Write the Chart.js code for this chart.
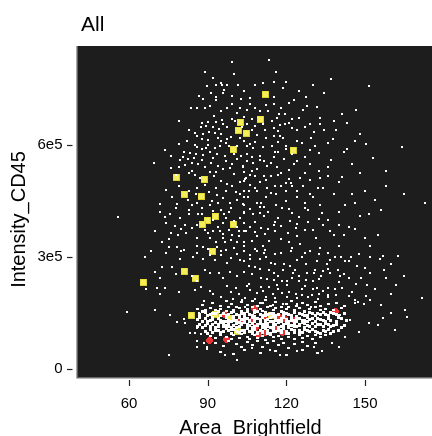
<!DOCTYPE html>
<html><head><meta charset="utf-8">
<script src="https://cdn.jsdelivr.net/npm/chart.js@4.4.1/dist/chart.umd.min.js"></script>
<style>html,body{margin:0;padding:0;background:#fff;}canvas{display:block;}</style>
</head><body>
<canvas id="c" width="432" height="436"></canvas>
<script>
const chartTitle = 'All';
const xAxisTitle = 'Area_Brightfield';
const yAxisTitle = 'Intensity_CD45';
const xTicks = [60, 90, 120, 150];
const xTickLabels = ['60', '90', '120', '150'];
const yTicks = [0, 3e5, 6e5];
const yTickLabels = ['0', '3e5', '6e5'];
const xRange = [40.17, 175.55];
const yRange = [-21400, 865200];

// scattered cells (area, intensity)
const cellsSparse = [
[113.5,828e3],[137.1,777e3],[151.6,758e3],[111.2,767e3],[115.4,768e3],[118.8,753e3],[134.5,740e3],[127.6,729e3],[115.4,729e3],[106.2,710e3],[115.4,710e3],[112.3,707e3],[105.1,694e3],[126.4,694e3],[131.8,702e3],[146.7,694e3],[117.2,683e3],[119.6,683e3],[141.3,683e3],[107,671e3],[114.6,664e3],[116.4,672e3],[122.2,670e3],[124.9,672e3],[132.9,673e3],[138.3,664e3],[117.7,653e3],[119.6,656e3],[129.1,656e3],[122.2,645e3],[115.4,645e3],[134.5,640e3],[139,640e3],[130.6,635e3],[112.2,618e3],[115.4,624e3],[117.7,624e3],[118.8,618e3],[129.5,618e3],[137.9,616e3],[150.5,602e3],[164.2,594e3],[106.2,602e3],[107.4,592e3],[105.1,597e3],[114.6,597e3],[119.9,597e3],[119.9,589e3],[115.8,581e3],[116.9,581e3],[129.1,586e3],[132.6,578e3],[142.1,581e3],[143.2,589e3],[107,567e3],[105.1,575e3],[115.4,567e3],[127.2,567e3],[111.6,557e3],[107.4,551e3],[112.7,543e3],[116.5,540e3],[103.5,540e3],[108.9,535e3],[107,530e3],[132.6,530e3],[111.6,516e3],[114.2,516e3],[125.3,511e3],[129.1,505e3],[132.9,511e3],[141.3,514e3],[104.7,511e3],[103.9,503e3],[112.3,505e3],[119.9,497e3],[121.9,497e3],[122.2,489e3],[126.4,489e3],[115.8,490e3],[158,489e3],[112.7,484e3],[105.8,476e3],[103.9,476e3],[129.1,468e3],[130.3,460e3],[112.3,460e3],[103.9,460e3],[153.9,452e3],[146.3,444e3],[142.5,438e3],[127.2,444e3],[118.4,430e3],[108.9,444e3],[110.4,446e3],[110,435e3],[111.6,435e3],[103.9,438e3],[173,444e3],
[151.6,414e3],[133.7,417e3],[128.4,425e3],[111.6,409e3],[107.4,414e3],[103.9,417e3],[115.8,393e3],[115.4,385e3],[121.5,396e3],[132.6,401e3],[136,398e3],[128.4,393e3],[140.2,387e3],[110.4,379e3],[123.8,379e3],[115.8,369e3],[120.7,363e3],[136.7,369e3],[138.3,360e3],[142.1,360e3],[131.4,350e3],[103.9,369e3],[107,342e3],[103.9,339e3],[113.5,342e3],[121.1,339e3],[125.3,334e3],[129.1,317e3],[121.9,317e3],[147.8,309e3],[132.6,309e3],[136,312e3],[127.2,312e3],[103.9,315e3],[108.9,315e3],[111.6,312e3],[115.8,309e3],[138.7,301e3],[140.9,301e3],[144.8,301e3],[162.7,304e3],[155.8,296e3],[157,304e3],[112.3,299e3],[110,296e3],[124.2,291e3],[131.8,288e3],[136.7,293e3],[142.5,288e3],[144,288e3],[114.2,283e3],[119.2,280e3],[115.8,280e3],[121.5,277e3],[127.6,282e3],[135.6,282e3],[103.9,288e3],[105.8,277e3],[108.1,274e3],[157.4,266e3],[139.8,266e3],[136,269e3],[131,266e3],[123.4,266e3],[118.8,266e3],[113.5,266e3],[103.9,261e3],[115.4,256e3],[122.6,256e3],[124.9,250e3],[130.6,256e3],[133.3,250e3],[136.7,256e3],[140.6,248e3],[144,245e3],[148.6,245e3],[158.1,245e3],[110.4,245e3],[112.7,242e3],[115.4,239e3],[118.4,237e3],[120.3,237e3],[127.6,239e3],[124.9,237e3],[130.3,237e3],[132.6,242e3],[140.2,234e3],[146.7,229e3],[150.9,226e3],[105.8,229e3],[110.4,221e3],[113.5,221e3],[116.5,226e3],[120.3,226e3],[127.2,223e3],[131.8,218e3],[136,218e3],[141.3,218e3],[126.1,213e3],[130.3,213e3],[138.7,213e3],[129.9,199e3],[132.6,202e3],[136,199e3],[123.8,202e3],[118.4,204e3],[115,202e3],[108.9,204e3],[104.3,191e3],[108.1,188e3],[112.3,194e3],[115.8,191e3],[120.3,194e3],[124.2,191e3],[128.4,194e3],[132.2,188e3],[136,194e3],[144,196e3],[146.3,186e3],[147.4,180e3],[171.9,191e3],[110,178e3],[115,172e3],[118.8,175e3],[124.2,175e3],[129.5,167e3],[133.3,170e3],[104.3,167e3],
[99.4,823e3],[89.1,796e3],[89.8,758e3],[93.3,761e3],[95.2,766e3],[95.6,761e3],[97.5,761e3],[101.7,761e3],[91.4,740e3],[96.3,748e3],[86.8,732e3],[88.3,723e3],[93.3,729e3],[93.3,721e3],[99.4,732e3],[102.8,723e3],[83.7,699e3],[89.1,699e3],[92.5,678e3],[97.5,699e3],[99.4,710e3],[102.4,699e3],[79.1,664e3],[90.2,661e3],[93.3,661e3],[95.6,667e3],[99.4,670e3],[100.5,664e3],[87.5,648e3],[89.4,651e3],[94.4,643e3],[97.5,648e3],[105.1,656e3],[85.2,632e3],[86,624e3],[88.3,629e3],[90.6,635e3],[92.9,632e3],[95.2,629e3],[87.9,616e3],[90.2,613e3],[95.2,610e3],[97.5,616e3],[99,621e3],[102.4,618e3],[79.1,602e3],[86,594e3],[87.9,589e3],[89.4,592e3],[92.9,592e3],[94.8,597e3],[73.8,586e3],[83.3,578e3],[85.6,575e3],[88.3,573e3],[91,581e3],[93.6,575e3],[96.7,570e3],[102.8,570e3],[80.7,567e3],[82.6,562e3],[84.8,565e3],[79.5,559e3],[69.6,551e3],[81.4,546e3],[84.1,551e3],[86.4,549e3],[91.4,551e3],[94,543e3],[99.4,549e3],[103.6,543e3],[76.1,538e3],[79.1,540e3],[82.9,524e3],[85.2,519e3],[91,527e3],[95.9,535e3],[98.6,538e3],[87.1,511e3],[92.5,516e3],[95.2,503e3],[97.5,495e3],[99.4,489e3],[102.4,500e3],[104.3,508e3],[76.5,462e3],[78.4,441e3],[71.9,441e3],[82.9,476e3],[85.6,470e3],[90.6,473e3],[93.6,465e3],[82.6,452e3],[86,446e3],[91,438e3],[94,444e3],[98.6,444e3],[100.9,473e3],[102.4,468e3],[103.6,441e3],[105.5,462e3],
[55.9,408e3],[73.8,408e3],[75.7,414e3],[79.5,404e3],[82.9,414e3],[86.4,414e3],[96.3,414e3],[102.4,404e3],[103.9,420e3],[74.2,390e3],[77.6,382e3],[81.4,385e3],[84.1,377e3],[95.9,390e3],[103.9,390e3],[68.4,317e3],[72.6,339e3],[75.3,347e3],[78.8,358e3],[81.8,363e3],[86,352e3],[90.2,363e3],[94.8,369e3],[99.4,360e3],[104.7,371e3],[75.3,328e3],[78.4,326e3],[81,320e3],[88.3,328e3],[93.6,328e3],[96.7,339e3],[101.3,339e3],[79.5,296e3],[84.5,301e3],[88.3,296e3],[92.9,291e3],[97.5,285e3],[102.4,291e3],[72.6,274e3],[76.5,272e3],[89.1,266e3],[94.4,258e3],[98.6,261e3],[103.9,261e3],[71.9,245e3],[86,237e3],[66.5,215e3],[70.7,218e3],[73.8,218e3],[87.5,221e3],[91,210e3],[97.5,223e3],[100.9,218e3],[105.1,223e3],[88.7,183e3],[99.7,188e3],[103.2,186e3],[59.3,153e3],[70,159e3],[75.7,145e3],[78.4,126e3],[81,134e3],[86.8,151e3],[89.1,153e3],[83.3,97e3],[86,110e3],[87.5,94e3],[88.7,70e3],[86,59e3],[75.3,38e3],[96.7,38e3],[89.8,54e3],
[157,137e3],[161.6,105e3],[165.4,159e3],[146.3,178e3],[149.5,175e3],[150.2,196e3],[147.6,100e3],[151.4,123e3],[139.9,60e3],[142.5,87e3],[137.4,69e3],[144.4,132e3],[140.6,145e3],[155,118e3],[160,150e3],
[81.4,123e3],[78.2,127e3],[85.2,96e3],[85.9,74e3],[89.7,60e3],[106.9,56e3],[113.9,51e3],[117.7,38e3],[130.4,60e3],[133.6,47e3],[124,47e3],[101.1,24e3],
[91.5,450e3],[96,457e3],[99,430e3],[101,452e3],[95,425e3],[88,430e3],[84,440e3],[97,405e3],[92,398e3],[100,396e3],[94,380e3],[98,372e3],[101,380e3],[89,372e3],[91,350e3],[96,352e3],[99,345e3],[102,355e3],[93,340e3],[86,330e3],[90,322e3],[97,318e3],[100,325e3],[104,330e3],[95,305e3],[99,298e3],[106,305e3],[108,322e3],[111,330e3],[109,355e3],[112,362e3],[106,380e3],[108,395e3],[118,348e3],[124,355e3],[127,372e3],[117,405e3],[122,418e3],[125,408e3],[113,420e3],[120,450e3],[124,462e3],[116,470e3],[120,478e3],[108,485e3],[110,500e3],[106,520e3],[118,525e3],[121,532e3],[123,548e3],[110,560e3],[100,575e3],[98,598e3],[104,610e3],[109,628e3],[112,640e3],[108,650e3],[104,675e3],[110,690e3],[106,725e3],[121,712e3],[124,640e3],[126,605e3],[122,575e3],[136,540e3],[134,485e3],[138,470e3],[145,470e3],[148,410e3],[144,380e3],[150,350e3],[152,330e3],[147,275e3],[152,258e3],[154,215e3],[162,225e3],[156,172e3],[166,140e3],
[86,700e3],[91,705e3],[95,690e3],[101,685e3],[108,700e3],[113,690e3],[118,700e3],[123,720e3],[128,705e3],[96,740e3],[104,745e3],[108,760e3],[120,770e3],[125,745e3],[100,790e3],[92,780e3],[116,795e3],[130,760e3],
[83,640e3],[88,660e3],[92,648e3],[96,655e3],[103,648e3],[107,640e3],[111,655e3],[117,638e3],[121,660e3],[127,648e3],[133,655e3],[143,660e3],[148,630e3],
[82,610e3],[85,600e3],[90,600e3],[94,620e3],[97,605e3],[101,597e3],[108,608e3],[111,596e3],[117,608e3],[124,612e3],[131,598e3],[136,605e3],[146,612e3],
[76,570e3],[81,580e3],[88,560e3],[92,565e3],[97,556e3],[101,562e3],[105,556e3],[110,570e3],[114,552e3],[119,562e3],[124,556e3],[129,548e3],[137,560e3],[145,548e3],[153,565e3],
[78,520e3],[84,530e3],[89,540e3],[93,528e3],[100,522e3],[104,527e3],[108,518e3],[117,520e3],[121,510e3],[127,524e3],[136,518e3],[140,500e3],[148,525e3],[158,530e3],
[74,480e3],[79,490e3],[86,485e3],[89,492e3],[93,485e3],[97,478e3],[106,492e3],[109,478e3],[114,472e3],[118,490e3],[124,478e3],[132,486e3],[150,478e3],[165,470e3],
[72,420e3],[78,430e3],[83,425e3],[88,415e3],[92,422e3],[98,420e3],[106,428e3],[110,418e3],[116,440e3],[121,428e3],[127,432e3],[133,440e3],[140,420e3],[156,425e3],
[70,370e3],[76,365e3],[80,375e3],[86,385e3],[92,370e3],[96,362e3],[102,370e3],[108,366e3],[113,375e3],[118,382e3],[124,388e3],[130,372e3],[134,385e3],[146,375e3],[155,360e3],
[66,300e3],[74,310e3],[80,315e3],[86,310e3],[91,305e3],[95,315e3],[101,308e3],[106,295e3],[112,320e3],[118,312e3],[122,325e3],[126,300e3],[133,325e3],[140,330e3],[152,300e3],[160,280e3],
[70,260e3],[78,255e3],[84,250e3],[91,258e3],[96,245e3],[101,250e3],[107,255e3],[110,268e3],[117,248e3],[122,243e3],[128,258e3],[134,262e3],[142,255e3],[150,270e3],[165,250e3],
[72,200e3],[79,205e3],[85,212e3],[92,200e3],[95,192e3],[99,205e3],[102,200e3],[106,212e3],[111,208e3],[117,215e3],[121,205e3],[126,198e3],[134,208e3],[139,198e3],[145,205e3],[152,185e3],[160,200e3]
];

// dense population core, centre
const cellsCore = [
[87,146e3],[89,151e3],[90,142e3],[92,148e3],[94,153e3],[95,143e3],[96,149e3],[98,145e3],[99,152e3],[100,141e3],[101,147e3],[103,150e3],[104,143e3],[105,154e3],[106,146e3],[108,141e3],[108,151e3],[110,147e3],[111,143e3],[112,152e3],[113,146e3],[115,141e3],[115,150e3],[117,145e3],[118,153e3],[119,142e3],[120,148e3],[122,144e3],[123,151e3],[124,141e3],[126,147e3],[127,153e3],[128,143e3],[130,149e3],[131,142e3],[133,146e3],[134,152e3],[136,144e3],[138,149e3],[140,143e3],
[86,132e3],[88,127e3],[89,136e3],[91,130e3],[92,139e3],[93,125e3],[94,134e3],[96,128e3],[97,137e3],[98,131e3],[99,126e3],[100,135e3],[101,129e3],[102,138e3],[103,133e3],[104,126e3],[105,136e3],[106,130e3],[107,139e3],[108,127e3],[109,134e3],[110,129e3],[111,137e3],[112,125e3],[113,132e3],[114,139e3],[115,128e3],[116,135e3],[117,130e3],[118,126e3],[119,137e3],[120,133e3],[121,128e3],[122,138e3],[123,131e3],[124,126e3],[125,135e3],[127,129e3],[128,137e3],[129,132e3],[131,127e3],[132,136e3],[134,130e3],[136,134e3],[139,128e3],[141,135e3],
[87,118e3],[88,112e3],[90,122e3],[91,115e3],[93,110e3],[94,119e3],[95,124e3],[96,113e3],[97,117e3],[98,122e3],[99,111e3],[100,116e3],[101,121e3],[102,113e3],[103,118e3],[104,124e3],[105,111e3],[106,116e3],[107,121e3],[108,114e3],[109,119e3],[110,123e3],[111,112e3],[112,117e3],[113,122e3],[114,110e3],[115,115e3],[116,120e3],[117,124e3],[118,113e3],[119,118e3],[120,122e3],[121,111e3],[122,116e3],[123,121e3],[124,114e3],[125,119e3],[126,124e3],[127,112e3],[128,117e3],[130,121e3],[131,113e3],[133,118e3],[135,123e3],[137,114e3],[139,119e3],[142,116e3],
[89,101e3],[91,106e3],[92,97e3],[94,104e3],[95,98e3],[97,108e3],[98,102e3],[99,96e3],[100,106e3],[101,100e3],[103,104e3],[104,97e3],[105,108e3],[106,101e3],[107,95e3],[108,106e3],[109,99e3],[110,104e3],[111,97e3],[112,108e3],[113,102e3],[114,96e3],[115,106e3],[116,100e3],[117,104e3],[118,97e3],[119,108e3],[120,101e3],[121,95e3],[122,105e3],[123,99e3],[125,103e3],[126,97e3],[127,107e3],[129,100e3],[130,105e3],[132,98e3],[134,103e3],[136,107e3],[138,100e3],
[88,155e3],[91,145e3],[93,150e3],[97,142e3],[100,153e3],[102,144e3],[104,149e3],[107,143e3],[109,153e3],[112,144e3],[114,148e3],[116,143e3],[119,151e3],[121,146e3],[125,150e3],[127,144e3],[129,152e3],[132,149e3],[135,147e3],[137,152e3],[139,145e3],[142,150e3],
[87,137e3],[90,126e3],[92,132e3],[95,130e3],[97,126e3],[100,130e3],[102,125e3],[104,135e3],[106,127e3],[108,136e3],[110,132e3],[112,129e3],[114,126e3],[116,131e3],[118,134e3],[120,127e3],[122,130e3],[124,136e3],[126,130e3],[128,126e3],[130,134e3],[133,132e3],[135,127e3],[137,131e3],[140,139e3],[143,130e3],
[86,113e3],[89,117e3],[92,120e3],[94,113e3],[96,121e3],[98,115e3],[101,111e3],[103,121e3],[105,118e3],[107,112e3],[109,116e3],[111,120e3],[113,114e3],[115,119e3],[117,112e3],[119,115e3],[121,120e3],[123,113e3],[125,116e3],[127,121e3],[129,114e3],[132,119e3],[134,115e3],[136,120e3],[138,117e3],[141,112e3],
[90,95e3],[93,103e3],[96,101e3],[99,105e3],[102,98e3],[104,102e3],[107,104e3],[109,95e3],[111,101e3],[113,95e3],[115,100e3],[118,103e3],[120,96e3],[123,103e3],[125,98e3],[128,104e3],[131,101e3],[133,96e3],[135,100e3],[137,95e3],[140,104e3]
];

// dense population core, rim
const cellsCoreRim = [
[88,172e3],[92,178e3],[95,168e3],[97,181e3],[99,174e3],[101,166e3],[103,179e3],[105,171e3],[107,183e3],[109,168e3],[111,176e3],[112,185e3],[114,170e3],[116,179e3],[118,167e3],[120,175e3],[122,182e3],[124,169e3],[126,177e3],[128,171e3],[131,180e3],[133,168e3],[136,174e3],[139,178e3],[142,170e3],
[86,160e3],[89,157e3],[91,164e3],[93,158e3],[95,162e3],[97,156e3],[98,165e3],[100,159e3],[102,163e3],[103,155e3],[105,160e3],[107,165e3],[108,157e3],[110,162e3],[111,155e3],[113,166e3],[115,159e3],[116,163e3],[118,156e3],[120,161e3],[121,166e3],[123,158e3],[125,163e3],[127,156e3],[129,161e3],[131,165e3],[133,158e3],[135,162e3],[138,157e3],[141,163e3],
[91,88e3],[93,82e3],[95,91e3],[97,85e3],[99,80e3],[100,90e3],[102,84e3],[103,93e3],[105,87e3],[106,80e3],[108,91e3],[109,84e3],[111,88e3],[112,79e3],[114,92e3],[115,85e3],[117,89e3],[118,81e3],[120,93e3],[121,86e3],[123,80e3],[125,90e3],[126,84e3],[128,88e3],[130,81e3],[131,92e3],[133,86e3],[135,90e3],
[93,70e3],[96,62e3],[98,74e3],[101,66e3],[103,58e3],[105,72e3],[107,64e3],[109,76e3],[111,60e3],[113,69e3],[115,74e3],[117,63e3],[119,71e3],[121,57e3],[123,67e3],[126,73e3],[128,61e3],[131,70e3],
[95,45e3],[100,40e3],[104,50e3],[110,42e3],[116,48e3],[120,37e3],[126,52e3],[132,44e3]
];

const selectedYellow = [
[112.2,735e3],[110.2,669e3],[102.5,660e3],[101.8,640e3],[104.9,630e3],[100,588e3],[122.8,585e3],[78.1,513e3],[88.9,508e3],[81.2,467e3],[87.8,463e3],[93,408e3],[89.9,399e3],[88,386e3],[100,386e3],[92,316e3],[81.2,262e3],[85.2,243e3],[65.5,232e3],[83.8,144e3],[93.1,147e3],[98.7,135e3],[114.5,144e3],[101.5,101e3]
];

const selectedRed = [
[96.4,147e3],[108,161e3],[102.6,127e3],[107.1,131e3],[112,139e3],[117.2,141e3],[119.3,134e3],[123,131e3],[138.9,153e3],[108.1,110e3],[112.2,99e3],[115.5,108e3],[118.7,99e3],[109.4,93e3],[97.3,80e3],[90.8,77e3]
];

const FONT = '"Liberation Sans", Arial, sans-serif';

function sprite(w, h, color, mask) {
  const c = document.createElement('canvas');
  c.width = w; c.height = h;
  const g = c.getContext('2d');
  g.fillStyle = color;
  for (let j = 0; j < h; j++) for (let i = 0; i < w; i++) {
    if (!mask || mask(i, j)) g.fillRect(i, j, 1, 1);
  }
  return c;
}
const dot2 = sprite(2, 2, '#ffffff');
const dot3 = sprite(3, 3, '#ffffff');
const dot3b = sprite(3, 2, '#ffffff');
const yellowSq = (() => {
  const c = sprite(7, 7, '#ebe33b');
  const g = c.getContext('2d');
  g.fillStyle = '#f4ee5a'; g.fillRect(1, 1, 5, 5);
  g.fillStyle = '#d9cf2e'; g.fillRect(0, 6, 7, 1); g.fillRect(6, 0, 1, 7);
  return c;
})();
const redDot = sprite(7, 7, '#ec3434', (i, j) => {
  const dx = i - 3, dy = j - 3; return dx * dx + dy * dy <= 10;
});

const decor = {
  id: 'decor',
  beforeDatasetsDraw(chart) {
    const {ctx, chartArea: a} = chart;
    ctx.fillStyle = '#1d1d1d';
    ctx.fillRect(a.left, a.top, a.right - a.left, a.bottom - a.top);
    ctx.imageSmoothingEnabled = false;
  },
  afterDatasetsDraw(chart) {
    chart.ctx.imageSmoothingEnabled = true;
  },
  afterDraw(chart) {
    const {ctx, chartArea: a, scales} = chart;
    ctx.save();
    ctx.lineWidth = 1.5;
    ctx.strokeStyle = '#a8a8a8';
    ctx.beginPath(); ctx.moveTo(a.left - 0.25, a.top); ctx.lineTo(a.left - 0.25, a.bottom + 1.5); ctx.stroke();
    ctx.strokeStyle = '#6a6a6a';
    ctx.beginPath(); ctx.moveTo(a.left, a.bottom + 0.75); ctx.lineTo(a.right, a.bottom + 0.75); ctx.stroke();
    ctx.strokeStyle = '#222';
    ctx.lineWidth = 1.2;
    yTicks.forEach(v => {
      const y = Math.round(scales.y.getPixelForValue(v)) + 0.5;
      ctx.beginPath(); ctx.moveTo(a.left - 10, y); ctx.lineTo(a.left - 4.5, y); ctx.stroke();
    });
    xTicks.forEach(v => {
      const x = Math.round(scales.x.getPixelForValue(v)) + 0.5;
      ctx.beginPath(); ctx.moveTo(x, a.bottom + 3); ctx.lineTo(x, a.bottom + 9); ctx.stroke();
    });
    ctx.fillStyle = '#000';
    ctx.textBaseline = 'alphabetic';
    ctx.font = '21px ' + FONT;
    ctx.textAlign = 'left';
    ctx.fillText(chartTitle, 81, 31);
    ctx.font = '20px ' + FONT;
    ctx.textAlign = 'center';
    ctx.fillText(xAxisTitle, 250.5, 434);
    ctx.translate(25, 219.5);
    ctx.rotate(-Math.PI / 2);
    ctx.fillText(yAxisTitle, 0, 0);
    ctx.restore();
  }
};

const pointSet = (data, style) => ({
  data, pointStyle: style, pointRadius: 1, pointHoverRadius: 1,
  borderWidth: 0, showLine: false
});

new Chart(document.getElementById('c'), {
  type: 'scatter',
  data: {
    datasets: [
      pointSet(cellsSparse, dot2),
      pointSet(cellsCoreRim, dot3b),
      pointSet(cellsCore, dot3),
      pointSet(selectedYellow, yellowSq),
      pointSet(selectedRed, redDot)
    ]
  },
  options: {
    responsive: false,
    animation: false,
    events: [],
    layout: {autoPadding: false, padding: {top: 46, left: 0, right: 0, bottom: 0}},
    plugins: {legend: {display: false}, title: {display: false}, tooltip: {enabled: false}},
    scales: {
      x: {
        type: 'linear', min: xRange[0], max: xRange[1],
        afterFit: s => { s.height = 59; s.paddingLeft = 0; s.paddingRight = 0; },
        afterBuildTicks: s => { s.ticks = xTicks.map(v => ({value: v})); },
        grid: {display: false, drawTicks: true, tickLength: 10},
        border: {display: false},
        ticks: {autoSkip: false, maxRotation: 0, padding: 8, color: '#000',
          font: {family: FONT, size: 15},
          callback: v => xTickLabels[xTicks.indexOf(v)]}
      },
      y: {
        type: 'linear', min: yRange[0], max: yRange[1],
        afterFit: s => { s.width = 77; },
        afterBuildTicks: s => { s.ticks = yTicks.map(v => ({value: v})); },
        grid: {display: false, drawTicks: true, tickLength: 10},
        border: {display: false},
        ticks: {autoSkip: false, padding: 4.5, color: '#000',
          font: {family: FONT, size: 15},
          callback: v => yTickLabels[yTicks.indexOf(v)]}
      }
    }
  },
  plugins: [decor]
});
</script>
</body></html>
